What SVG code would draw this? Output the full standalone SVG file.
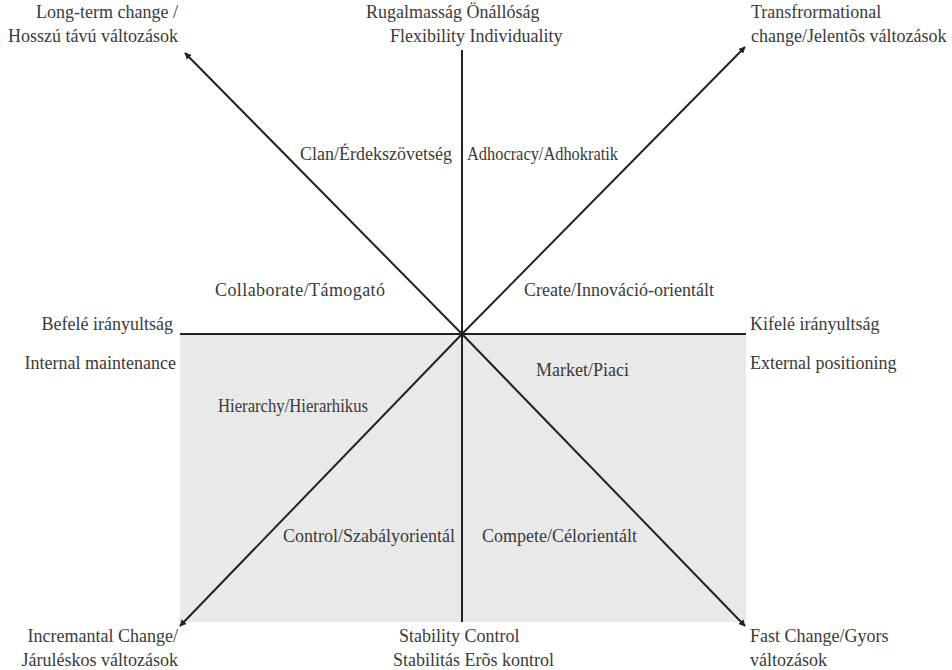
<svg xmlns="http://www.w3.org/2000/svg" width="952" height="670" viewBox="0 0 952 670">
<defs>
<style>
.t text{font-family:"Liberation Serif","Times New Roman",serif;font-size:18px;fill:#3a3a3a}
.t .e{text-anchor:end}
.ln{stroke:#222;stroke-width:2;fill:none}
</style>
<marker id="ah" viewBox="0 0 10 10" refX="9" refY="5" markerWidth="7" markerHeight="7" orient="auto" markerUnits="userSpaceOnUse">
<path d="M0,0 L10,5 L0,10 z" fill="#222"/>
</marker>
</defs>
<rect width="952" height="670" fill="#fff"/>
<g id="lower-half">
<rect x="180" y="334" width="566" height="288" fill="#e9e9e9"/>
</g>
<g id="connectors">
<line class="ln" x1="180" y1="334" x2="746" y2="334"/>
<line class="ln" x1="462" y1="50" x2="462" y2="622"/>
<line class="ln" x1="462" y1="334" x2="185" y2="53" marker-end="url(#ah)"/>
<line class="ln" x1="462" y1="334" x2="745" y2="47" marker-end="url(#ah)"/>
<line class="ln" x1="462" y1="334" x2="180" y2="626" marker-end="url(#ah)"/>
<line class="ln" x1="462" y1="334" x2="745" y2="626" marker-end="url(#ah)"/>
</g>
<g class="t">
<g id="corner-tl">
<text class="e" x="178" y="18">Long-term change /</text>
<text class="e" x="178" y="42">Hosszú távú változások</text>
</g>
<g id="top">
<text x="366" y="18">Rugalmasság Önállóság</text>
<text x="390" y="42">Flexibility Individuality</text>
</g>
<g id="corner-tr">
<text x="751" y="18">Transfrormational</text>
<text x="751" y="42">change/Jelentõs változások</text>
</g>
<g id="clan"><text x="300" y="160">Clan/Érdekszövetség</text></g>
<g id="adhocracy"><text x="467" y="160" textLength="151" lengthAdjust="spacingAndGlyphs">Adhocracy/Adhokratik</text></g>
<g id="collaborate"><text x="215" y="296" textLength="170">Collaborate/Támogató</text></g>
<g id="create"><text x="524" y="296">Create/Innováció-orientált</text></g>
<g id="left">
<text class="e" x="173" y="330">Befelé irányultság</text>
<text class="e" x="176" y="369">Internal maintenance</text>
</g>
<g id="right">
<text x="750" y="330">Kifelé irányultság</text>
<text x="750" y="369">External positioning</text>
</g>
<g id="hierarchy"><text x="218" y="412" textLength="150" lengthAdjust="spacingAndGlyphs">Hierarchy/Hierarhikus</text></g>
<g id="market"><text x="536" y="376">Market/Piaci</text></g>
<g id="control"><text x="283" y="542">Control/Szabályorientál</text></g>
<g id="compete"><text x="482" y="542">Compete/Célorientált</text></g>
<g id="corner-bl">
<text class="e" x="178" y="642">Incremantal Change/</text>
<text class="e" x="178" y="666">Járuléskos változások</text>
</g>
<g id="bottom">
<text x="399" y="642">Stability Control</text>
<text x="393" y="666">Stabilitás Erõs kontrol</text>
</g>
<g id="corner-br">
<text x="750" y="642">Fast Change/Gyors</text>
<text x="750" y="666">változások</text>
</g>
</g>
</svg>
